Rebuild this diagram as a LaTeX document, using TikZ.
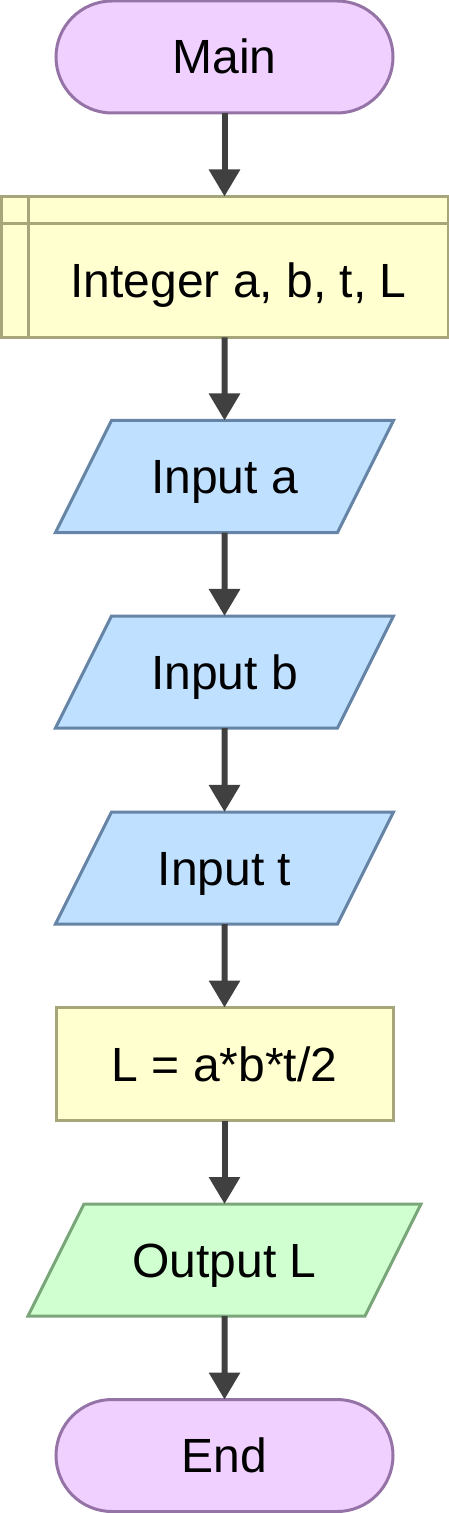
\documentclass[tikz,border=0pt]{standalone}
\usepackage{fontspec}
\setmainfont{Liberation Sans}
\usetikzlibrary{shapes.geometric,arrows.meta}
\definecolor{termfill}{HTML}{F0D0FF}
\definecolor{termdraw}{HTML}{9673A6}
\definecolor{procfill}{HTML}{FFFFD0}
\definecolor{procdraw}{HTML}{A6A67A}
\definecolor{infill}{HTML}{C0E0FF}
\definecolor{indraw}{HTML}{6684A6}
\definecolor{outfill}{HTML}{D0FFD0}
\definecolor{outdraw}{HTML}{7AA67A}
\definecolor{conncol}{HTML}{404040}
\tikzset{label text/.style={inner sep=0pt,outer sep=0pt,text height=19pt,text depth=2pt,
		font=\fontsize{24}{28}\selectfont},
	flow/.style={label text,draw,line width=1.5pt},
	term/.style={flow,rectangle,rounded corners=28pt,fill=termfill,draw=termdraw,
		minimum width=168.5pt,minimum height=56pt},
	decl/.style={flow,rectangle,fill=procfill,draw=procdraw,
		minimum width=223.5pt,minimum height=70.5pt},
	proc/.style={flow,rectangle,fill=procfill,draw=procdraw,
		minimum width=168.5pt,minimum height=56.5pt},
	io/.style={flow,trapezium,trapezium left angle=63.43,trapezium right angle=116.57,
		trapezium stretches body,inner ysep=17.5pt,minimum width=169pt},
	inbox/.style={io,fill=infill,draw=indraw},
	outbox/.style={io,fill=outfill,draw=outdraw,minimum width=196.5pt},
	conn/.style={->,draw=conncol,line width=3pt}}

\begin{document}
\begin{tikzpicture}[x=0.5pt,y=-0.5pt,>={Triangle[width=15pt,length=13.5pt]}]
\useasboundingbox (0,0) rectangle (449,1513);
\node[term] (main) at (224.5,57) {Main};
\node[decl] (decl) at (224.5,267) {};
\draw[procdraw,line width=1.5pt] ([xshift=13.5pt]decl.north west) -- ([xshift=13.5pt]decl.south west);
\draw[procdraw,line width=1.5pt] ([yshift=-13.5pt]decl.north west) -- ([yshift=-13.5pt]decl.north east);
\node[label text] (decltext) at (238.5,280.5) {Integer a, b, t, L};
\node[inbox] (ina) at (224.5,476.5) {Input a};
\node[inbox] (inb) at (224.5,672) {Input b};
\node[inbox] (int) at (224.5,868) {Input t};
\node[proc] (calc) at (224.5,1064) {L = a*b*t/2};
\node[outbox] (outl) at (224.5,1260) {Output L};
\node[term] (end) at (224.5,1455.5) {End};
\foreach \a/\b in {main/decl,decl/ina,ina/inb,inb/int,int/calc,calc/outl,outl/end}
	\draw[conn] (\a) -- (\b);
\end{tikzpicture}
\end{document}
